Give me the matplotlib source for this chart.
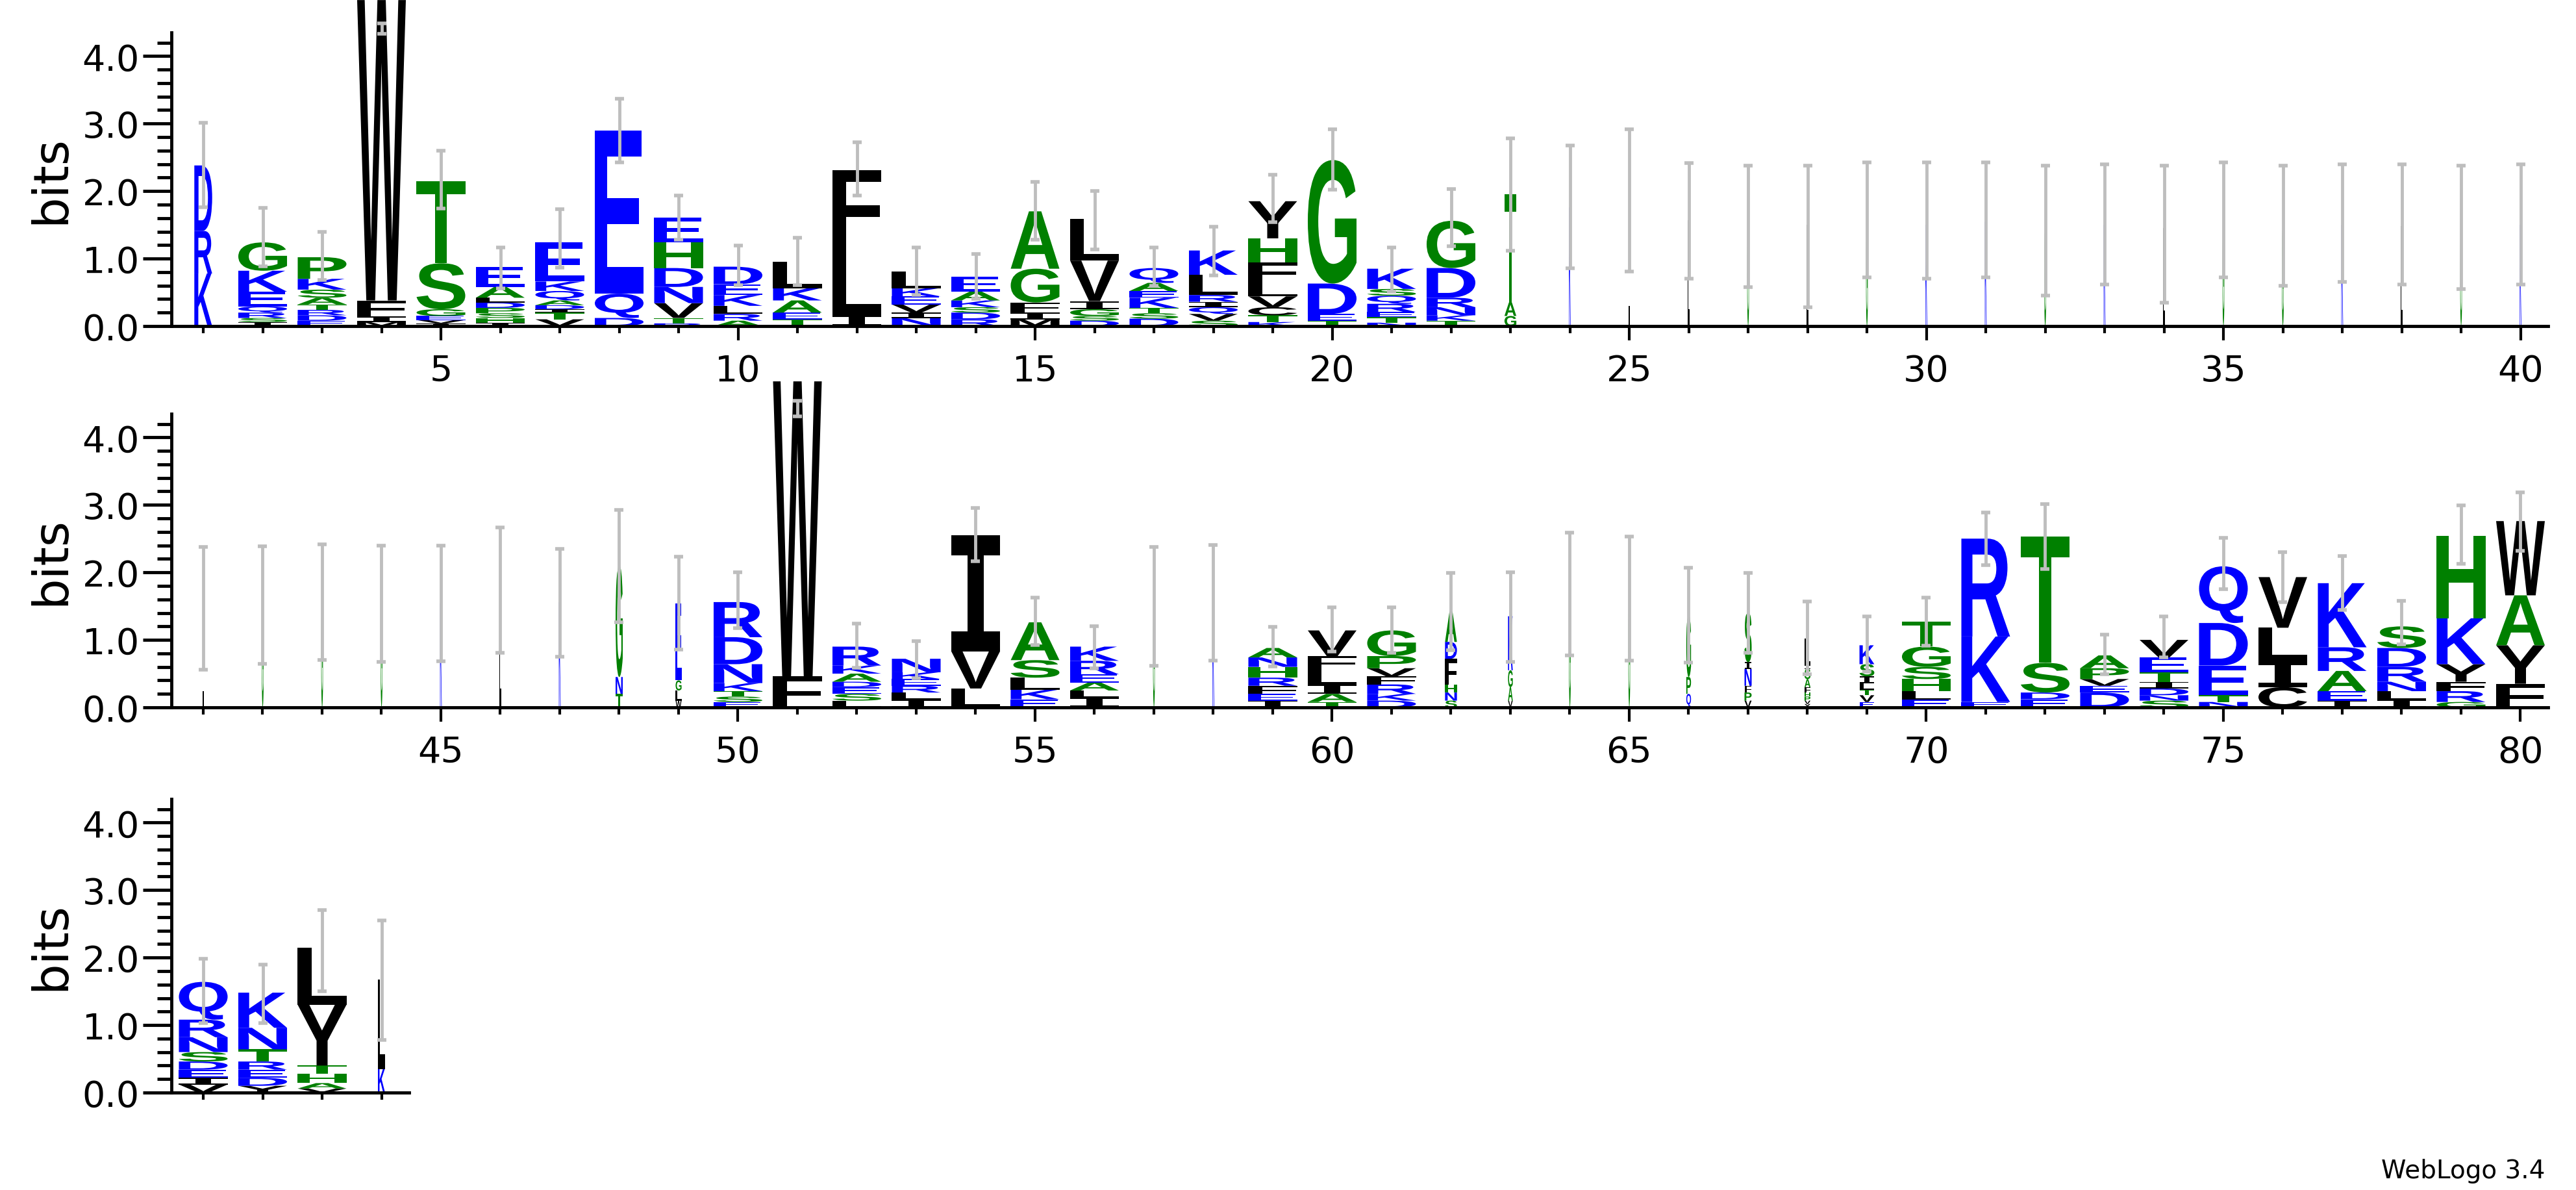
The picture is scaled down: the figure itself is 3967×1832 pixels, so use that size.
import matplotlib
matplotlib.use('Agg')
import matplotlib.pyplot as plt
from matplotlib.textpath import TextPath
from matplotlib.patches import PathPatch
from matplotlib.font_manager import FontProperties
from matplotlib.transforms import Affine2D
from matplotlib.ticker import FixedLocator, FormatStrFormatter

# ---- data: stacks bottom -> top, "letter:bits" ----
stacks = [
 "K:0.78 R:0.63 D:0.97",
 "I:0.06 S:0.06 R:0.08 Q:0.09 E:0.22 K:0.31 G:0.42",
 "E:0.08 D:0.08 R:0.08 T:0.08 A:0.1 S:0.12 K:0.16 P:0.32",
 "M:0.06 I:0.08 F:0.24 W:4.45",
 "I:0.04 V:0.05 E:0.06 G:0.1 S:0.68 T:1.22",
 "I:0.05 H:0.07 S:0.07 P:0.08 D:0.08 L:0.07 A:0.16 E:0.3",
 "V:0.1 T:0.1 I:0.05 D:0.06 A:0.07 Q:0.14 K:0.14 E:0.58",
 "D:0.12 Q:0.36 E:2.42",
 "R:0.04 T:0.08 V:0.22 N:0.24 D:0.28 H:0.38 E:0.37",
 "A:0.08 R:0.1 L:0.12 K:0.16 E:0.16 D:0.26",
 "T:0.1 E:0.1 A:0.18 K:0.18 L:0.39",
 "I:0.16 L:1.05 F:1.1",
 "N:0.12 I:0.08 V:0.12 E:0.12 K:0.12 L:0.25",
 "R:0.1 D:0.1 S:0.08 K:0.1 A:0.13 E:0.22",
 "M:0.1 I:0.1 F:0.15 G:0.5 A:0.85",
 "D:0.08 S:0.07 G:0.1 I:0.12 V:0.6 L:0.62",
 "D:0.11 S:0.08 T:0.08 K:0.15 E:0.1 A:0.12 Q:0.22",
 "S:0.08 V:0.1 Q:0.1 I:0.08 R:0.1 L:0.3 K:0.36",
 "K:0.06 T:0.1 C:0.12 V:0.16 L:0.22 F:0.28 H:0.36 Y:0.55",
 "T:0.08 E:0.1 D:0.45 G:1.83",
 "N:0.05 T:0.08 E:0.08 R:0.12 Q:0.12 S:0.1 K:0.3",
 "T:0.08 K:0.08 N:0.12 R:0.14 D:0.44 G:0.7",
 "G:0.15 A:0.2 T:1.6",
 "K:1.76", "L:1.86", "L:1.57", "G:1.48", "L:1.5", "G:1.5", "K:1.5",
 "K:1.55", "G:1.45", "K:1.5", "L:1.45", "G:1.55", "G:1.48", "K:1.5",
 "L:1.48", "G:1.45", "K:1.5",
 "L:1.47", "G:1.5", "G:1.56", "G:1.54", "K:1.54", "L:1.75", "K:1.56",
 "T:0.2 N:0.25 G:1.65",
 "W:0.1 L:0.15 G:0.15 E:1.14",
 "E:0.08 S:0.08 T:0.08 K:0.12 N:0.28 D:0.4 R:0.52",
 "F:0.46 W:4.37",
 "L:0.1 S:0.1 E:0.1 D:0.08 A:0.12 K:0.12 R:0.28",
 "I:0.12 L:0.1 R:0.1 E:0.1 K:0.1 N:0.2",
 "L:0.28 V:0.55 I:1.72",
 "E:0.12 K:0.14 L:0.18 S:0.26 A:0.56",
 "I:0.15 L:0.1 A:0.12 E:0.12 R:0.2 K:0.21",
 "G:1.51", "K:1.56",
 "I:0.1 E:0.1 F:0.12 R:0.12 H:0.16 N:0.14 A:0.14",
 "T:0.08 A:0.12 I:0.14 L:0.22 F:0.2 V:0.38",
 "D:0.1 K:0.1 R:0.14 F:0.12 V:0.12 P:0.18 G:0.38",
 "S:0.1 N:0.12 H:0.12 F:0.38 D:0.25 A:0.45",
 "V:0.1 A:0.2 G:0.25 K:0.8",
 "G:1.76", "G:1.68",
 "Q:0.2 P:0.25 G:0.91",
 "V:0.1 P:0.12 F:0.1 N:0.25 I:0.1 S:0.73",
 "Y:0.05 V:0.05 P:0.06 H:0.06 F:0.08 A:0.12 S:0.15 I:0.05 L:0.4",
 "E:0.08 V:0.1 T:0.08 L:0.1 I:0.1 S:0.18 K:0.28",
 "E:0.12 L:0.12 H:0.18 S:0.18 G:0.3 T:0.37",
 "E:0.08 K:0.97 R:1.45",
 "E:0.12 D:0.1 S:0.44 T:1.87",
 "D:0.22 E:0.1 V:0.1 P:0.16 A:0.19",
 "S:0.1 N:0.08 D:0.1 I:0.1 T:0.14 E:0.22 V:0.26",
 "N:0.08 T:0.1 E:0.44 D:0.63 Q:0.84",
 "C:0.3 I:0.4 L:0.48 V:0.75",
 "I:0.1 E:0.14 A:0.3 R:0.35 K:0.95",
 "I:0.12 L:0.12 N:0.14 R:0.22 D:0.28 S:0.32",
 "G:0.08 R:0.16 F:0.14 Y:0.26 K:0.68 H:1.22",
 "F:0.35 Y:0.57 A:0.74 W:1.1",
 "V:0.12 I:0.1 E:0.12 D:0.12 S:0.14 N:0.22 R:0.26 Q:0.56",
 "Y:0.1 D:0.12 E:0.12 R:0.12 T:0.18 N:0.32 K:0.52",
 "V:0.06 A:0.08 H:0.14 T:0.12 Y:0.9 L:0.85",
 "K:0.35 L:1.32",
]
err_low = [1.76,0.89,0.68,4.33,1.74,0.56,0.87,2.43,1.28,0.61,0.61,1.93,0.46,0.40,1.28,1.14,0.60,0.75,1.54,2.02,
           0.51,1.18,1.12,0.86,0.81,0.70,0.58,0.28,0.72,0.70,0.72,0.45,0.62,0.35,0.72,0.60,0.65,0.62,0.55,0.62,
           0.56,0.64,0.70,0.67,0.68,0.81,0.75,1.26,0.86,1.17,4.31,0.59,0.43,2.17,0.92,0.58,0.62,0.69,0.61,0.83,
           0.81,0.85,0.67,0.77,0.69,0.66,0.81,0.49,0.53,0.91,2.11,2.05,0.49,0.74,1.75,1.56,1.44,0.93,2.13,2.32,
           1.03,1.03,1.50,0.78]
err_high = [3.01,1.75,1.40,4.48,2.60,1.16,1.73,3.37,1.93,1.19,1.31,2.72,1.16,1.07,2.14,2.00,1.16,1.47,2.24,2.92,
            1.16,2.03,2.78,2.68,2.92,2.42,2.38,2.38,2.43,2.43,2.43,2.38,2.40,2.38,2.43,2.38,2.40,2.40,2.38,2.40,
            2.38,2.39,2.42,2.40,2.40,2.67,2.35,2.93,2.23,2.00,4.54,1.24,0.98,2.95,1.63,1.20,2.38,2.41,1.19,1.48,
            1.48,1.99,2.00,2.59,2.53,2.07,1.99,1.57,1.35,1.63,2.89,3.01,1.08,1.35,2.51,2.30,2.24,1.58,2.99,3.19,
            1.98,1.90,2.70,2.55]
col_width = {1:0.3, 23:0.2, 48:0.12, 49:0.1, 62:0.2, 63:0.08, 66:0.08, 67:0.12, 68:0.1, 69:0.25, 84:0.12}
for p in list(range(24, 48)) + [57, 58, 64, 65]:
    col_width[p] = 0.03

row_ranges = [(1, 40), (41, 80), (81, 84)]

colors = {}
for c in "KRDEQN": colors[c] = '#0000FF'
for c in "GSTAPH": colors[c] = '#008000'
for c in "WFLIVMYC": colors[c] = '#000000'

fp = FontProperties(family='Liberation Sans', weight='bold')
fp_i = FontProperties(family='DejaVu Sans Mono', weight='bold')
glyphs = {}
def glyph(ch):
    if ch not in glyphs:
        tp = TextPath((0, 0), ch, size=1, prop=fp_i if ch == 'I' else fp)
        glyphs[ch] = (tp, tp.get_extents())
    return glyphs[ch]

W, H = 3967, 1833
fig = plt.figure(figsize=(W/100, H/100), dpi=100)
step = 91.5
ah = 452
zeros = [503, 1090, 1683]
for (lo, hi), y0 in zip(row_ranges, zeros):
    n = hi - lo + 1
    left = 313 - 0.54*step
    ax = fig.add_axes([left/W, (H-y0)/H, n*step/W, ah/H])
    ax.set_xlim(lo-0.54, hi+0.46)
    ax.set_ylim(0, 4.35)
    for p in range(lo, hi+1):
        w = col_width.get(p, 0.82)
        b = 0.0
        for item in stacks[p-1].split():
            ch, h = item.split(':'); h = float(h)
            tp, ext = glyph(ch)
            tr = (Affine2D().translate(-ext.x0, -ext.y0)
                  .scale(w/ext.width, h/ext.height)
                  .translate(p - w/2, b))
            patch = PathPatch(tr.transform_path(tp), facecolor=colors[ch], edgecolor='none',
                              transform=ax.transData, clip_on=False, zorder=2)
            ax.add_patch(patch)
            b += h
    xs = list(range(lo, hi+1))
    lows = err_low[lo-1:hi]; highs = err_high[lo-1:hi]
    mids = [(a+c)/2 for a, c in zip(lows, highs)]
    half = [(c-a)/2 for a, c in zip(lows, highs)]
    ax.errorbar(xs, mids, yerr=half, fmt='none', ecolor='#BEBEBE', elinewidth=3.5,
                capsize=5, capthick=4, zorder=3, clip_on=False)
    for s in ['top', 'right']:
        ax.spines[s].set_visible(False)
    for s in ['left', 'bottom']:
        ax.spines[s].set_linewidth(3.5)
    ax.xaxis.set_major_locator(FixedLocator([x for x in xs if x % 5 == 0]))
    ax.xaxis.set_minor_locator(FixedLocator(xs))
    ax.yaxis.set_major_locator(FixedLocator([0, 1, 2, 3, 4]))
    ax.yaxis.set_minor_locator(FixedLocator([i*0.2 for i in range(22)]))
    ax.yaxis.set_major_formatter(FormatStrFormatter('%.1f'))
    ax.tick_params(axis='x', which='major', length=16, width=3, labelsize=40, pad=14)
    ax.tick_params(axis='x', which='minor', length=8, width=3)
    ax.tick_params(axis='y', which='major', length=32, width=3.5, labelsize=40, pad=3)
    ax.tick_params(axis='y', which='minor', length=16, width=3.5)
    ax.set_ylabel('bits', fontsize=54, labelpad=8)

fig.text(0.988, 0.006, 'WebLogo 3.4', ha='right', va='bottom', fontsize=28)
fig.savefig('out.png', dpi=100)
